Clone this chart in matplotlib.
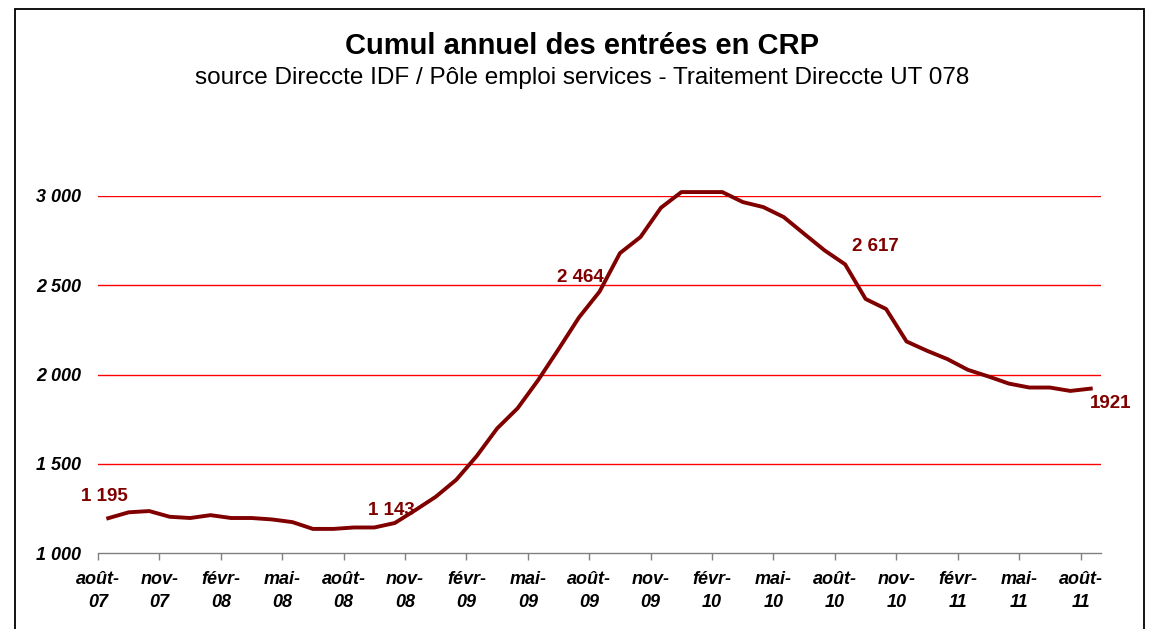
import matplotlib
matplotlib.use('Agg')
import matplotlib.pyplot as plt
from matplotlib.patches import Rectangle

# monthly cumulative entries, aug 2007 -> aug 2011
months = ['août-07', 'sept-07', 'oct-07', 'nov-07', 'déc-07', 'janv-08', 'févr-08', 'mars-08',
          'avr-08', 'mai-08', 'juin-08', 'juil-08', 'août-08', 'sept-08', 'oct-08', 'nov-08',
          'déc-08', 'janv-09', 'févr-09', 'mars-09', 'avr-09', 'mai-09', 'juin-09', 'juil-09',
          'août-09', 'sept-09', 'oct-09', 'nov-09', 'déc-09', 'janv-10', 'févr-10', 'mars-10',
          'avr-10', 'mai-10', 'juin-10', 'juil-10', 'août-10', 'sept-10', 'oct-10', 'nov-10',
          'déc-10', 'janv-11', 'févr-11', 'mars-11', 'avr-11', 'mai-11', 'juin-11', 'juil-11',
          'août-11']
values = [1195, 1228, 1235, 1203, 1196, 1212, 1196, 1196, 1188, 1173, 1135, 1135, 1143, 1143,
          1168, 1240, 1315, 1410, 1543, 1698, 1811, 1968, 2142, 2320, 2464, 2680, 2770, 2934,
          3022, 3022, 3022, 2966, 2938, 2882, 2788, 2695, 2617, 2423, 2367, 2185, 2133, 2086,
          2026, 1989, 1949, 1927, 1927, 1908, 1921]

# labelled points: index, text, offset in pixels
label_idx = [0, 12, 24, 36, 48]
label_txt = ['1 195', '1 143', '2 464', '2 617', '1921']
label_off = [(-4, 22), (38, 17), (-19, 14), (30, 18), (20, -15)]

yticks = [1000, 1500, 2000, 2500, 3000]
ytick_labels = ['1 000', '1 500', '2 000', '2 500', '3 000']

W, H = 1151, 629
fig = plt.figure(figsize=(W / 100, H / 100), dpi=100)
fig.patch.set_facecolor('white')

# outer chart frame (bottom edge runs off the image)
fig.add_artist(Rectangle((15 / W, -0.05), (1144 - 15) / W, (H - 9) / H + 0.05,
                         transform=fig.transFigure, fill=False, edgecolor='black', lw=1.3))

ax = fig.add_axes([98 / W, 1 - 553 / H, (1101 - 98) / W, (553 - 196) / H])
x = list(range(len(values)))
ax.plot(x, values, color='#800000', lw=2.8, clip_on=False, zorder=3)

ax.set_xlim(-0.5, len(values) - 0.5)
ax.set_ylim(1000, 3000)

for y in yticks[1:]:
    ax.axhline(y, color='#FF0000', lw=1.0, zorder=1)

for s in ['top', 'right', 'left']:
    ax.spines[s].set_visible(False)
ax.spines['bottom'].set_color('#808080')
ax.spines['bottom'].set_linewidth(1.0)

tick_pos = [i - 0.5 for i in range(0, len(values), 3)]
tick_lab = [months[i].replace('-', '-\n') for i in range(0, len(values), 3)]
ax.set_xticks(tick_pos)
ax.set_xticklabels(tick_lab, fontsize=13, fontweight='bold', fontstyle='italic',
                   family='Liberation Sans', linespacing=1.45)
ax.tick_params(axis='x', direction='out', length=5, width=1, color='#808080', pad=8)

ax.set_yticks(yticks)
ax.set_yticklabels(ytick_labels, fontsize=13, fontweight='bold', fontstyle='italic',
                   family='Liberation Sans')
ax.tick_params(axis='y', length=0, pad=12)

for i, t, off in zip(label_idx, label_txt, label_off):
    ax.annotate(t, (x[i], values[i]), xytext=off, textcoords='offset pixels',
                ha='center', va='center', color='#800000', fontsize=13.5, fontweight='bold',
                family='Liberation Sans')

fig.text(582 / W, 1 - 46 / H, 'Cumul annuel des entrées en CRP', ha='center', va='center',
         fontsize=21, fontweight='bold', family='Liberation Sans')
fig.text(582 / W, 1 - 78 / H,
         'source Direccte IDF / Pôle emploi services - Traitement Direccte UT 078',
         ha='center', va='center', fontsize=17.5, family='Liberation Sans')

fig.savefig('out.png', dpi=100)
